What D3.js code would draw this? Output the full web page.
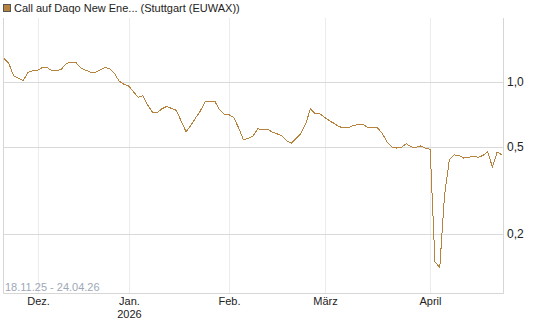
<!DOCTYPE html>
<html>
<head>
<meta charset="utf-8">
<script src="https://cdn.jsdelivr.net/npm/d3@7"></script>
<style>
  body { margin: 0; background: #fff; }
  svg { display: block; font-family: "Liberation Sans", Arial, sans-serif; }
</style>
</head>
<body>
<div id="chart"></div>
<script>
// trading calendar (Stuttgart / EUWAX)
const firstDay = "2025-11-20";
const lastDay = "2026-04-24";
const holidays = ["2025-12-24", "2025-12-25", "2025-12-26", "2025-12-31", "2026-01-01", "2026-04-03", "2026-04-06"];

// closing prices, one per trading day
const prices = [
    1.282, 1.219, 1.069, 1.042, 1.013, 1.109, 1.128, 1.132, 1.166, 1.165,
    1.129, 1.126, 1.148, 1.216, 1.236, 1.232, 1.163, 1.135, 1.112, 1.108,
    1.135, 1.166, 1.155, 1.102, 1.013, 0.978, 0.962, 0.904, 0.851, 0.865,
    0.784, 0.728, 0.723, 0.754, 0.773, 0.756, 0.741, 0.662, 0.591, 0.631,
    0.683, 0.736, 0.814, 0.812, 0.818, 0.747, 0.711, 0.707, 0.687, 0.615,
    0.542, 0.550, 0.565, 0.609, 0.605, 0.608, 0.589, 0.578, 0.566, 0.538,
    0.523, 0.551, 0.580, 0.641, 0.754, 0.713, 0.713, 0.687, 0.663, 0.644,
    0.622, 0.619, 0.619, 0.631, 0.637, 0.637, 0.618, 0.615, 0.616, 0.580,
    0.530, 0.502, 0.497, 0.500, 0.521, 0.503, 0.500, 0.508, 0.496, 0.490,
    0.149, 0.140, 0.302, 0.438, 0.462, 0.459, 0.447, 0.450, 0.457, 0.451,
    0.459, 0.477, 0.407, 0.477, 0.462
];

const monthLabels = ["Dez.", "Jan.", "Feb.", "März", "April"];
const yearLabels = ["", "2026", "", "", ""];
const yTicks = [0.2, 0.5, 1.0];
const yTickLabels = ["0,2", "0,5", "1,0"];

const seriesName = "Call auf Daqo New Ene... (Stuttgart (EUWAX))";
const rangeLabel = "18.11.25 - 24.04.26";

const width = 545;
const height = 327;
const plotLeft = 3, plotRight = 503, plotTop = 18, plotBottom = 293;
const lineColor = "#b5833d";

const parse = d3.timeParse("%Y-%m-%d");
const fmt = d3.timeFormat("%Y-%m-%d");
const days = d3.timeDay.range(parse(firstDay), d3.timeDay.offset(parse(lastDay), 1))
    .filter(d => d.getDay() !== 0 && d.getDay() !== 6 && !holidays.includes(fmt(d)));

const data = days.map((d, i) => ({date: d, idx: i, value: prices[i]}));

// first trading day of each month from December on
const monthStarts = data.filter((d, i) => i > 0 && d.date.getMonth() !== data[i - 1].date.getMonth());

const x = d3.scaleLinear()
            .domain([0, data.length - 1])
            .range([4, 502]);

const y = d3.scaleLog()
            .domain([0.107, 1.93])
            .range([plotBottom, plotTop + 2]);

const svg = d3.select("#chart")
              .append("svg")
              .attr("width", width)
              .attr("height", height);

// vertical month grid
svg.append("g")
   .selectAll("line")
   .data(monthStarts)
   .enter()
   .append("line")
   .attr("x1", d => Math.round(x(d.idx)) + 0.5)
   .attr("x2", d => Math.round(x(d.idx)) + 0.5)
   .attr("y1", plotTop)
   .attr("y2", plotBottom)
   .style("stroke", "#ececec");

// horizontal grid
svg.append("g")
   .selectAll("line")
   .data(yTicks)
   .enter()
   .append("line")
   .attr("x1", plotLeft)
   .attr("x2", plotRight)
   .attr("y1", d => Math.round(y(d)) + 0.5)
   .attr("y2", d => Math.round(y(d)) + 0.5)
   .style("stroke", "#d9d9d9");

// frame
svg.append("path")
   .attr("d", `M${plotLeft + 0.5},${plotTop}V${plotBottom + 0.5}H${plotRight + 0.5}V${plotTop}`)
   .style("fill", "none")
   .style("stroke", "#d6d6d6");

// y labels
svg.append("g")
   .selectAll("text")
   .data(yTicks)
   .enter()
   .append("text")
   .attr("x", plotRight + 4)
   .attr("y", d => y(d) + 4)
   .style("font-size", "12px")
   .style("fill", "#222")
   .text((d, i) => yTickLabels[i]);

// x labels
const xl = svg.append("g")
   .selectAll("text")
   .data(monthStarts)
   .enter()
   .append("text")
   .attr("x", d => Math.round(x(d.idx)) + 0.5)
   .attr("y", 305)
   .attr("text-anchor", "middle")
   .style("font-size", "11px")
   .style("fill", "#222");

xl.append("tspan")
  .text((d, i) => monthLabels[i]);
xl.append("tspan")
  .attr("x", d => Math.round(x(d.idx)) + 0.5)
  .attr("dy", 13)
  .text((d, i) => yearLabels[i]);

// price line
const line = d3.line()
               .x(d => x(d.idx))
               .y(d => y(d.value));

svg.append("path")
   .datum(data)
   .attr("d", line)
   .style("fill", "none")
   .style("stroke", lineColor)
   .style("stroke-width", 1)
   .style("shape-rendering", "crispEdges");

// range label
svg.append("text")
   .attr("x", 5)
   .attr("y", 291)
   .style("font-size", "11px")
   .style("fill", "#9ea7b6")
   .text(rangeLabel);

// legend
svg.append("rect")
   .attr("x", 3.5)
   .attr("y", 4.5)
   .attr("width", 7)
   .attr("height", 7)
   .style("fill", lineColor)
   .style("stroke", "#555");

svg.append("text")
   .attr("x", 14)
   .attr("y", 12)
   .style("font-size", "11px")
   .style("fill", "#222")
   .text(seriesName);
</script>
</body>
</html>
